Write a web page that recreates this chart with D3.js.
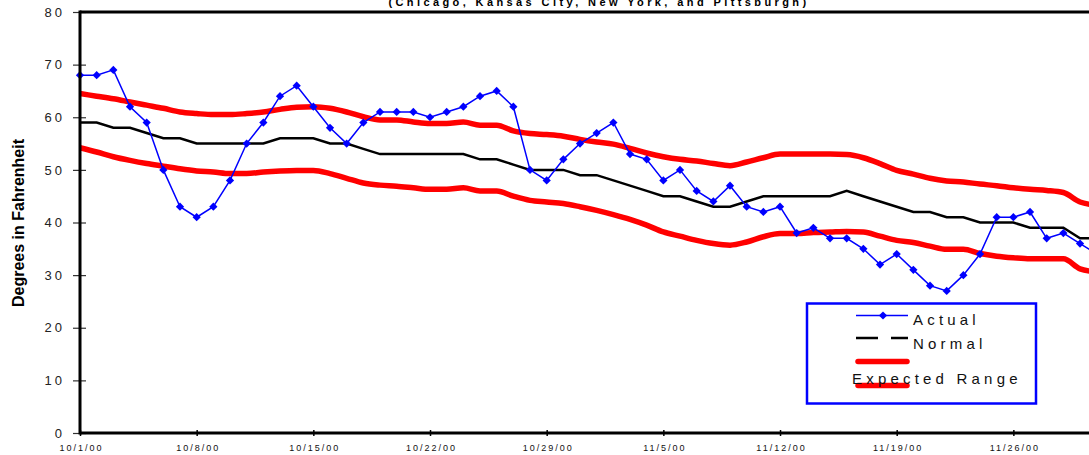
<!DOCTYPE html>
<html>
<head>
<meta charset="utf-8">
<script src="https://cdn.jsdelivr.net/npm/d3@7"></script>
<style>
  body { margin: 0; background: #fff; }
  svg { display: block; font-family: "Liberation Sans", Arial, sans-serif; }
</style>
</head>
<body>
<script>
// Daily temps from 10/1/00, one value per day
var startDate = "10/1/00";
var actual = [68, 68, 69, 62, 59, 50, 43, 41, 43, 48, 55, 59, 64, 66, 62, 58, 55, 59, 61, 61,
              61, 60, 61, 62, 64, 65, 62, 50, 48, 52, 55, 57, 59, 53, 52, 48, 50, 46, 44, 47,
              43, 42, 43, 38, 39, 37, 37, 35, 32, 34, 31, 28, 27, 30, 34, 41, 41, 42, 37, 38,
              36, 34];
var normal = [59, 59, 58, 58, 57, 56, 56, 55, 55, 55, 55, 55, 56, 56, 56, 55, 55, 54, 53, 53,
              53, 53, 53, 53, 52, 52, 51, 50, 50, 50, 49, 49, 48, 47, 46, 45, 45, 44, 43, 43,
              44, 45, 45, 45, 45, 45, 46, 45, 44, 43, 42, 42, 41, 41, 40, 40, 40, 39, 39, 39,
              37, 37];
var rangeHigh = [64.5, 64.0, 63.5, 62.9, 62.3, 61.7, 61.0, 60.7, 60.5, 60.5, 60.7, 61.0, 61.5, 61.9,
                 62.0, 61.7, 61.0, 60.1, 59.5, 59.5, 59.1, 58.8, 58.8, 59.1, 58.5, 58.5, 57.4, 56.9,
                 56.7, 56.4, 55.8, 55.3, 54.9, 54.1, 53.2, 52.5, 52.0, 51.7, 51.2, 50.8, 51.5, 52.3,
                 53.0, 53.0, 53.0, 53.0, 52.9, 52.3, 51.2, 49.9, 49.2, 48.4, 47.9, 47.7, 47.3, 47.0,
                 46.6, 46.3, 46.1, 45.7, 43.9, 43.3];
var rangeLow = [54.2, 53.4, 52.5, 51.8, 51.2, 50.7, 50.2, 49.8, 49.6, 49.3, 49.3, 49.6, 49.8, 49.9,
                49.9, 49.3, 48.4, 47.5, 47.1, 46.9, 46.6, 46.3, 46.3, 46.6, 46.0, 46.0, 45.0, 44.2,
                43.9, 43.6, 43.0, 42.3, 41.5, 40.6, 39.5, 38.2, 37.4, 36.6, 36.0, 35.7, 36.3, 37.3,
                37.9, 37.9, 38.1, 38.2, 38.3, 38.2, 37.4, 36.6, 36.2, 35.5, 34.9, 34.9, 34.1, 33.6,
                33.3, 33.1, 33.1, 33.1, 31.2, 30.6];
var tickLabels = ["10/1/00", "10/8/00", "10/15/00", "10/22/00", "10/29/00",
                  "11/5/00", "11/12/00", "11/19/00", "11/26/00"];
var yTicks = [0, 10, 20, 30, 40, 50, 60, 70, 80];
var legendNames = ["Actual", "Normal", "Expected Range"];
var subtitle = "(Chicago, Kansas City, New York, and Pittsburgh)";
var yTitle = "Degrees in Fahrenheit";

var width = 1089, height = 455;

// the plot runs off the right edge of the window, so the range goes past 1089
var margin = { top: 12, left: 80, bottom: 433 };

var parseDate = d3.timeParse("%-m/%-d/%y");
var start = parseDate(startDate);
var days = actual.map(function(v, i) { return d3.timeDay.offset(start, i); });

var svg = d3.select("body").append("svg")
    .attr("width", width)
    .attr("height", height);

var x = d3.scaleTime()
    .domain([start, d3.timeDay.offset(start, 61)])
    .range([margin.left, 1096.7]);

var y = d3.scaleLinear()
    .domain([0, 80])
    .range([margin.bottom, margin.top]);

// subtitle, mostly cut off at the top
svg.append("text")
    .attr("x", 599)
    .attr("y", 6)
    .attr("text-anchor", "middle")
    .attr("font-size", "11px")
    .attr("font-weight", "bold")
    .attr("letter-spacing", "3.4px")
    .text(subtitle);

// y axis title
svg.append("text")
    .attr("transform", "translate(24,223) rotate(-90)")
    .attr("text-anchor", "middle")
    .attr("font-size", "16px")
    .attr("font-weight", "bold")
    .text(yTitle);

// lines
function lineFor(arr, curve) {
    return d3.line()
        .x(function(d, i) { return x(days[i]); })
        .y(function(d) { return y(d); })
        .curve(curve)(arr);
}

svg.append("path")
    .attr("d", lineFor(rangeHigh, d3.curveMonotoneX))
    .attr("fill", "none").attr("stroke", "#ff0000").attr("stroke-width", 5.5);
svg.append("path")
    .attr("d", lineFor(rangeLow, d3.curveMonotoneX))
    .attr("fill", "none").attr("stroke", "#ff0000").attr("stroke-width", 5.5);
svg.append("path")
    .attr("d", lineFor(normal, d3.curveLinear))
    .attr("fill", "none").attr("stroke", "#000").attr("stroke-width", 2.5);
svg.append("path")
    .attr("d", lineFor(actual, d3.curveLinear))
    .attr("fill", "none").attr("stroke", "#0000ff").attr("stroke-width", 1.5);

var diamond = d3.symbol().type(d3.symbolSquare).size(34);
svg.append("g")
    .selectAll("path")
    .data(actual)
    .enter()
    .append("path")
    .attr("d", diamond)
    .attr("transform", function(d, i) {
        return "translate(" + x(days[i]) + "," + y(d) + ") rotate(45)";
    })
    .attr("fill", "#0000ff");

// y axis
var yAxis = svg.append("g")
    .attr("transform", "translate(" + margin.left + ",0)")
    .call(d3.axisLeft(y).tickValues(yTicks).tickSize(7).tickFormat(d3.format("d")));
yAxis.select(".domain").remove();
yAxis.selectAll(".tick line").attr("x2", -7).attr("x1", 6).attr("stroke", "#333").attr("stroke-width", 1.2);
yAxis.selectAll(".tick text")
    .attr("x", -15)
    .attr("font-size", "13px")
    .attr("font-family", "Liberation Sans, Arial, sans-serif")
    .attr("letter-spacing", "3px")
    .attr("fill", "#222");

// x axis
var xAxis = svg.append("g")
    .attr("transform", "translate(0," + margin.bottom + ")")
    .call(d3.axisBottom(x)
        .tickValues(tickLabels.map(parseDate))
        .tickSize(3)
        .tickFormat(function(d) { return tickLabels[d3.timeDay.count(start, d) / 7]; }));
xAxis.select(".domain").remove();
xAxis.selectAll(".tick line").attr("y1", -3).attr("y2", 3).attr("stroke", "#000").attr("stroke-width", 1.5);
xAxis.selectAll(".tick text")
    .attr("y", 18)
    .attr("dy", 0)
    .attr("dx", "1px")
    .attr("font-size", "9px")
    .attr("font-family", "Liberation Sans, Arial, sans-serif")
    .attr("letter-spacing", "2px")
    .attr("fill", "#111");

// frame: left axis, bottom axis and top border
svg.append("line")
    .attr("x1", margin.left).attr("x2", margin.left)
    .attr("y1", margin.top - 1.5).attr("y2", margin.bottom + 1.5)
    .attr("stroke", "#000").attr("stroke-width", 3);
svg.append("line")
    .attr("x1", margin.left).attr("x2", width)
    .attr("y1", margin.bottom).attr("y2", margin.bottom)
    .attr("stroke", "#000").attr("stroke-width", 3);
svg.append("line")
    .attr("x1", margin.left).attr("x2", width)
    .attr("y1", margin.top).attr("y2", margin.top)
    .attr("stroke", "#000").attr("stroke-width", 3);

// legend
var legend = svg.append("g");
legend.append("rect")
    .attr("x", 807).attr("y", 303.5)
    .attr("width", 229).attr("height", 100)
    .attr("fill", "#fff").attr("stroke", "#0000ff").attr("stroke-width", 2.5);

legend.append("line")
    .attr("x1", 856).attr("x2", 908).attr("y1", 315.5).attr("y2", 315.5)
    .attr("stroke", "#0000ff").attr("stroke-width", 1.5);
legend.append("path")
    .attr("d", diamond)
    .attr("transform", "translate(883,315.5) rotate(45)")
    .attr("fill", "#0000ff");
legend.append("line")
    .attr("x1", 856).attr("x2", 908).attr("y1", 338).attr("y2", 338)
    .attr("stroke", "#000").attr("stroke-width", 2.5)
    .attr("stroke-dasharray", "22,13");
legend.append("line")
    .attr("x1", 858).attr("x2", 907).attr("y1", 361.5).attr("y2", 361.5)
    .attr("stroke", "#ff0000").attr("stroke-width", 5.5).attr("stroke-linecap", "round");
legend.append("line")
    .attr("x1", 858).attr("x2", 907).attr("y1", 385.5).attr("y2", 385.5)
    .attr("stroke", "#ff0000").attr("stroke-width", 5.5).attr("stroke-linecap", "round");

var legendPos = [[913, 325], [913, 349], [852, 384]];
legend.selectAll("text.lg")
    .data(legendNames)
    .enter()
    .append("text")
    .attr("class", "lg")
    .attr("x", function(d, i) { return legendPos[i][0]; })
    .attr("y", function(d, i) { return legendPos[i][1]; })
    .attr("font-size", "15px")
    .attr("letter-spacing", "4.2px")
    .attr("fill", "#111")
    .text(function(d) { return d; });
</script>
</body>
</html>
